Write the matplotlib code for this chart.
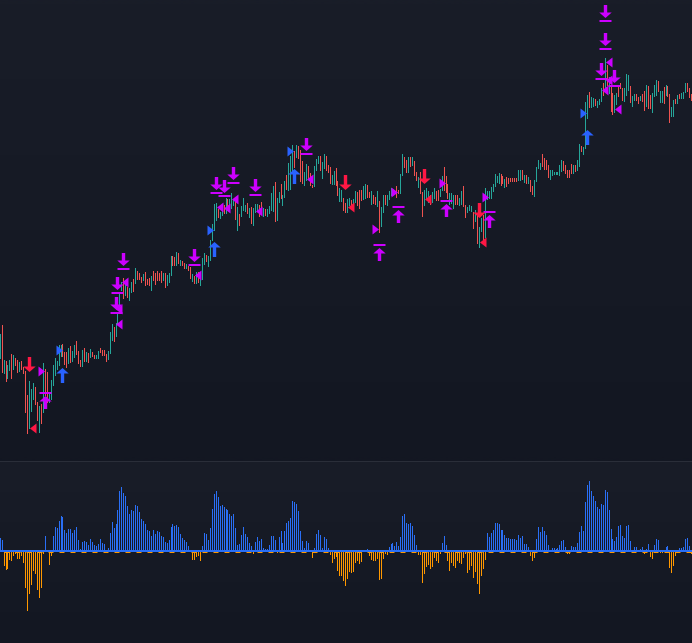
import numpy as np
import matplotlib
matplotlib.use("Agg")
import matplotlib.pyplot as plt
from matplotlib.path import Path
from matplotlib.colors import to_rgb

# ---- price bars (price units) ----
highs = [127,136,101,100,96,101,107,106,103,101,99,100,94,90,66,80,72,78,74,59,55,57,98,92,89,67,81,96,103,100,
 116,116,117,109,109,113,115,110,116,120,110,101,111,113,109,108,112,109,106,106,110,113,111,111,107,110,129,137,134,138,
 148,168,179,183,181,174,173,179,182,193,190,188,184,187,189,182,183,185,190,188,190,188,190,188,188,186,188,205,205,204,
 209,208,201,200,198,197,195,194,187,185,189,189,189,203,208,206,205,221,237,257,258,252,249,256,256,263,262,262,268,262,
 259,254,247,255,263,256,258,253,254,253,257,257,256,259,253,252,252,255,268,275,279,263,269,277,266,280,286,298,305,316,
 310,316,315,311,300,289,297,295,288,276,295,302,305,305,299,307,305,296,
 294,286,290,293,280,273,271,263,258,262,263,261,262,270,269,271,271,275,277,276,269,270,266,264,270,260,254,266,266,266,
 270,273,271,271,275,271,287,307,304,301,304,304,304,300,289,284,289,269,271,273,270,266,269,273,270,271,272,285,294,285,
 277,268,268,266,266,266,263,270,275,256,254,256,255,249,251,246,234,243,246,273,270,270,274,277,287,285,288,287,285,282,
 284,283,283,283,283,283,291,291,291,286,286,284,281,275,281,294,301,298,307,303,301,296,
 291,291,289,289,289,296,301,300,296,291,291,297,296,296,301,317,315,314,359,366,369,364,363,362,360,362,373,378,403,396,
 384,374,368,366,368,374,378,373,373,387,386,375,365,367,367,364,365,367,370,376,375,366,368,376,381,380,370,370,374,376,
 375,367,354,361,362,366,367,368,369,378,378,373,367]
lows = [103,89,88,80,83,91,83,92,96,89,90,92,88,49,28,33,50,62,57,41,29,38,49,66,59,59,62,76,86,92,
 96,105,105,97,94,98,99,100,104,107,98,95,95,100,100,99,104,105,103,103,103,109,106,106,100,102,108,121,120,125,
 138,156,171,163,166,164,161,169,170,178,182,182,179,181,176,177,176,171,181,177,181,181,179,181,174,176,179,186,196,196,
 196,198,196,196,193,193,191,183,180,178,178,179,176,182,197,200,195,201,221,231,241,244,243,246,248,248,256,256,253,256,
 242,231,236,245,251,250,248,244,238,236,249,250,245,254,245,246,245,248,251,250,240,241,259,263,256,264,272,271,272,291,
 294,304,303,280,278,276,281,283,276,274,275,291,298,291,283,293,291,289,
 278,277,277,276,266,260,260,251,249,249,256,257,258,259,256,253,261,262,263,264,264,257,258,257,255,229,235,249,257,256,
 262,266,268,268,264,268,268,286,294,289,289,295,296,286,281,274,268,245,256,263,259,257,259,263,261,261,265,271,271,269,
 263,257,258,253,257,257,256,257,255,244,249,251,250,233,240,218,214,230,221,224,262,263,263,270,275,279,278,276,278,274,
 275,278,280,280,280,280,281,281,282,279,278,278,270,267,265,280,293,292,295,292,292,284,
 282,286,287,287,287,286,290,291,288,284,284,288,288,290,291,295,310,307,313,343,354,354,355,356,354,357,360,366,374,376,
 368,350,347,349,357,365,373,361,360,366,371,359,355,361,361,358,361,360,351,355,353,353,349,365,366,370,359,359,358,366,
 365,339,345,345,358,358,363,363,363,369,370,364,361]
# 1 = closed up (teal), 0 = closed down (red)
ups = [1,0,1,0,1,1,0,1,0,0,1,0,0,0,0,1,1,1,0,0,1,0,1,0,0,1,1,1,1,1,
 1,1,0,0,0,1,0,1,1,0,0,0,1,0,1,0,1,0,0,1,1,0,0,0,0,1,1,1,0,1,
 1,1,1,0,1,0,1,1,0,1,0,0,0,1,0,0,0,1,0,0,0,0,0,1,0,1,1,1,0,0,
 1,0,1,0,0,1,0,0,1,0,1,0,1,1,1,0,1,1,1,1,1,0,1,1,0,1,0,1,1,1,
 0,1,0,1,1,1,0,1,0,1,1,1,0,0,1,0,1,1,1,1,0,1,1,0,1,1,0,1,1,1,
 0,1,0,0,0,1,1,0,0,0,1,1,1,0,1,1,0,0,
 0,1,1,0,0,1,1,0,0,1,1,0,1,1,0,0,0,1,1,0,0,1,0,0,1,0,1,1,0,1,
 1,1,0,0,0,0,1,1,0,0,1,0,1,0,0,1,0,0,1,1,1,0,1,1,0,0,1,1,0,0,
 0,1,1,1,0,0,1,1,0,0,1,1,1,0,1,0,1,1,0,1,1,1,1,1,1,1,1,0,0,1,
 0,0,0,0,0,0,1,1,0,1,0,1,0,0,1,1,1,1,0,0,0,0,
 1,1,1,1,1,1,1,0,0,0,0,0,1,0,1,1,0,1,1,1,
 0,1,1,0,1,1,1,0,1,0,1,0,0,1,1,0,0,0,1,1,1,0,1,1,0,0,1,0,0,1,0,0,1,1,1,0,1,1,0,1,0,0,1,1,0,1,0,1,1,1,0,0,0]

# ---- oscillator histogram ----
hist_values = [38,33,-42,-54,-50,-24,-27,-12,-5,-20,-20,-12,-33,-108,-177,-126,-99,-57,-66,-114,-138,-108,-6,45,0,-39,-12,45,72,68,
 90,105,102,63,54,66,66,54,63,72,33,6,27,30,27,18,36,27,18,15,21,36,24,21,0,9,54,87,69,81,
 123,180,192,174,165,135,111,123,120,138,135,117,96,90,81,63,60,45,63,51,60,57,45,42,27,24,33,72,81,75,
 78,72,51,39,33,27,15,0,-24,-24,-15,-12,-27,15,54,51,33,69,126,171,180,162,135,138,132,126,123,111,105,111,
 69,18,21,48,72,51,42,24,15,-5,27,42,30,36,9,6,6,18,45,45,33,-4,42,60,24,60,84,90,99,150,
 147,141,120,60,30,9,30,24,0,-18,9,51,63,48,9,42,36,9,-9,-33,-21,-15,-57,-72,-72,-87,-102,-81,-60,-63,
 -60,-33,-27,-36,-30,0,0,6,-12,-24,-27,-27,-21,-84,-81,-21,-6,-9,12,21,24,15,27,15,42,105,111,84,81,84,
 75,48,18,-9,-9,-93,-66,-45,-39,-51,-45,-18,-27,-33,-6,24,45,18,-27,-57,-33,-42,-48,-27,-33,-36,-18,-6,-63,-54,
 -42,-78,-60,-96,-126,-72,-51,-24,54,42,54,63,84,84,81,63,63,48,39,39,36,36,36,33,48,39,45,21,21,12,-12,-27,
 -18,36,72,57,72,60,48,18,0,9,9,6,9,18,30,33,12,-6,-6,15,12,12,24,57,75,60,147,198,210,180,
 165,150,132,126,141,138,183,177,123,66,36,30,42,75,78,45,39,75,78,30,-3,12,12,0,6,12,-6,6,21,-15,
 -21,18,36,33,-3,-3,0,12,15,-48,-63,-42,-12,0,9,9,12,36,39,15,-6]

# ---- signals: bar number and price ----
sell_i = [15,176,216,244]
sell_p = [97.5,279.5,285.5,251.5]
buy_i = [32,109,150,299]
buy_p = [86.5,212.5,285.5,324.5]
cap_up_i = [23,193,203,227,249]
cap_up_p = [61.5,209.5,247.5,253.5,242.5]
cap_down_i = [63,60,59,99,110,114,119,130,156,308,308,306,313]
cap_down_p = [200.5,176.5,156.5,204.5,276.5,273.5,286.5,274.5,315.5,448.5,420.5,390.5,383.5]
left_m_i = [61,64,61,101,112,116,120,132,158,310,310,308,315]
left_m_p = [136.7,178.7,152,185.7,253.7,252.7,261.7,249.7,281.7,398.7,381,370.7,351.7]
left_r_i = [17,179,218,246]
left_r_p = [32.7,253.7,261.7,218.7]
right_m_i = [21,201,191,225,247]
right_m_p = [89.7,268.7,231.7,277.7,263.7]
right_b_i = [30,107,148,297]
right_b_p = [110.7,230.7,309.7,347.7]

assert len(highs) == len(lows) == len(ups) == len(hist_values), (len(highs), len(lows), len(ups), len(hist_values))

TEAL = "#26a69a"; RED = "#ef5350"
MAG = "#cc00ff"; SIG_RED = "#ff1744"; SIG_BLUE = "#2962ff"
H_BLUE = "#2a6ff5"; H_ORANGE = "#ff9800"

W, H = 692, 643
PANE = 461
STEP = 55 / 28
fig = plt.figure(figsize=(W/100, H/100), dpi=100)
ax = fig.add_axes([0, (H-PANE)/H, 1, PANE/H])
ah = fig.add_axes([0, 0, 1, (H-PANE)/H])

xl = (0.375/STEP, (W+0.375)/STEP)

def gradient(a, ylim):
    top = np.array(to_rgb("#191d28")); bot = np.array(to_rgb("#131722"))
    t = np.linspace(0, 1, 64)[:, None, None]
    img = top[None, None, :]*(1-t) + bot[None, None, :]*t
    a.imshow(img, extent=(xl[0], xl[1], ylim[0], ylim[1]), aspect="auto", zorder=0, interpolation="bilinear")

for a, yl in ((ax, (0, PANE)), (ah, (-276, 270))):
    gradient(a, yl)
    a.set_xlim(*xl); a.set_ylim(*yl)
    a.set_xticks([]); a.set_yticks([])
    for s in a.spines.values():
        s.set_visible(False)
ah.spines["top"].set_visible(True)
ah.spines["top"].set_color("#2a2e39")
ah.spines["top"].set_linewidth(0.72)

LW = 0.72
x = np.arange(len(highs))
cols = [TEAL if u else RED for u in ups]
c1 = ax.vlines(x, lows, highs, colors=cols, linewidth=LW, antialiased=False, zorder=2)
c1.set_snap(True)

hv = np.array(hist_values, float)
hc = [H_BLUE if v >= 0 else H_ORANGE for v in hv]
c2 = ah.vlines(x, 0, hv, colors=hc, linewidth=LW, antialiased=False, zorder=2)
c2.set_snap(True)
ah.axhline(0, color=H_BLUE, linewidth=2*LW, zorder=3)
ah.axhline(-1.5, color=H_ORANGE, linewidth=LW, linestyle=(7, (5, 6)), zorder=4)

def poly(p):
    p = list(p) + [p[0]]
    return Path(p, [Path.MOVETO] + [Path.LINETO]*(len(p)-2) + [Path.CLOSEPOLY])

def compound(*parts):
    return Path.make_compound_path(*[poly(q) for q in parts])

A = 6.2   # half head width, px
C = 6.0   # half cap width, px
plain_down = poly([(-1.7,7.5),(1.7,7.5),(1.7,-2),(A,-2),(0,-7.5),(-A,-2),(-1.7,-2)])
plain_up = poly([(-1.7,-7.5),(1.7,-7.5),(1.7,2),(A,2),(0,7.5),(-A,2),(-1.7,2)])
cap_down = compound([(-1.7,8.5),(1.7,8.5),(1.7,1),(A,1),(0,-4.5),(-A,1),(-1.7,1)],
                    [(-C,-6.5),(C,-6.5),(C,-8.5),(-C,-8.5)])
cap_up = compound([(-1.7,-8.5),(1.7,-8.5),(1.7,-1),(A,-1),(0,4.5),(-A,-1),(-1.7,-1)],
                  [(-C,6.5),(C,6.5),(C,8.5),(-C,8.5)])
tri_left = poly([(-3.5,0),(3,5),(3,-5)])
tri_right = poly([(3.5,0),(-3,5),(-3,-5)])

def mark(i, p, path, size_px, color, z=5):
    ax.plot(i, p, linestyle="none", marker=path, markersize=size_px*0.72, markerfacecolor=color,
            markeredgewidth=0, antialiased=False, zorder=z, snap=False)

mark(left_m_i, left_m_p, tri_left, 10, MAG)
mark(right_m_i, right_m_p, tri_right, 10, MAG)
mark(left_r_i, left_r_p, tri_left, 10, SIG_RED)
mark(right_b_i, right_b_p, tri_right, 10, SIG_BLUE)
mark(cap_down_i, cap_down_p, cap_down, 17, MAG, 6)
mark(cap_up_i, cap_up_p, cap_up, 17, MAG, 6)
mark(sell_i, sell_p, plain_down, 15, SIG_RED, 6)
mark(buy_i, buy_p, plain_up, 15, SIG_BLUE, 6)

fig.savefig("out.png", dpi=100, facecolor="#131722")
